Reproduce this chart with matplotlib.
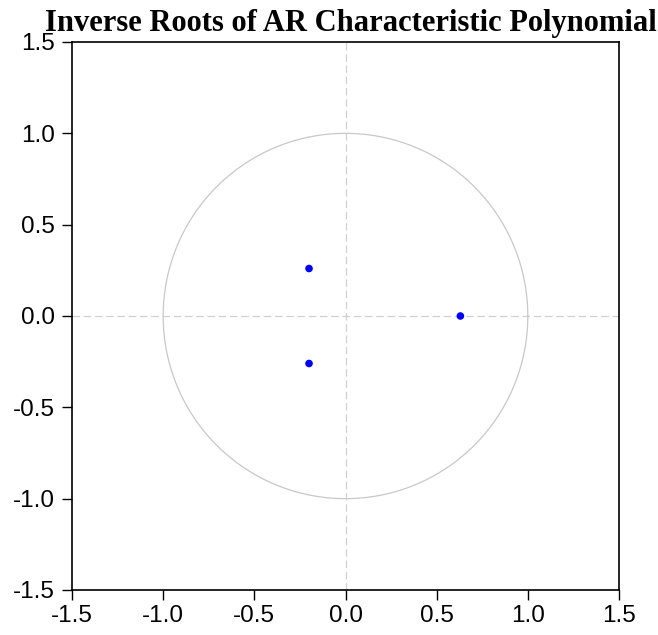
import numpy as np
import matplotlib
matplotlib.use("Agg")
import matplotlib.pyplot as plt

title = "Inverse Roots of AR Characteristic Polynomial"
root_re = [0.63, -0.20, -0.20]
root_im = [0.0, 0.26, -0.26]
ticks = [-1.5, -1.0, -0.5, 0.0, 0.5, 1.0, 1.5]
tick_labels = ["-1.5", "-1.0", "-0.5", "0.0", "0.5", "1.0", "1.5"]

fig = plt.figure(figsize=(6.58, 6.35), dpi=100)
ax = fig.add_axes([72/658, 1 - 590/635, (619-72)/658, (590-42)/635])

theta = np.linspace(0, 2*np.pi, 500)
ax.plot(np.cos(theta), np.sin(theta), color="#c8c8c8", lw=0.9, zorder=1)
ax.axhline(0, color="#d0d0d0", lw=0.9, ls=(0, (6, 3)), zorder=1)
ax.axvline(0, color="#d0d0d0", lw=0.9, ls=(0, (6, 3)), zorder=1)
ax.scatter(root_re, root_im, s=30, color="#0000ff", zorder=3, edgecolors="none")

ax.set_xlim(-1.5, 1.5)
ax.set_ylim(-1.5, 1.5)
ax.set_xticks(ticks)
ax.set_xticklabels(tick_labels)
ax.set_yticks(ticks)
ax.set_yticklabels(tick_labels)
ax.tick_params(direction="out", length=7.5, width=1, labelsize=17.5)
ax.tick_params(axis="y", pad=5)
ax.tick_params(axis="x", pad=3)
for lab in ax.get_xticklabels() + ax.get_yticklabels():
    lab.set_fontfamily("Liberation Sans")
for s in ax.spines.values():
    s.set_linewidth(1.2)

fig.text(351/658, 1 - 24/635, title, ha="center", va="center",
         fontfamily="Liberation Serif", fontweight="bold", fontsize=22)

fig.savefig("out.png", dpi=100)
